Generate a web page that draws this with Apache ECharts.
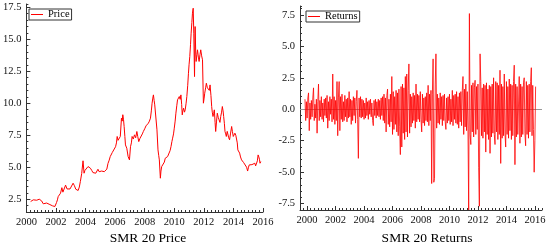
<!DOCTYPE html>
<html><head><meta charset="utf-8">
<script src="https://cdn.jsdelivr.net/npm/echarts@6/dist/echarts.min.js"></script>
<style>html,body{margin:0;padding:0;background:#fff}#c{width:553px;height:244px}</style>
</head><body><div id="c"></div>
<script>
// ---- data ----
const yearTicks = [2000, 2002, 2004, 2006, 2008, 2010, 2012, 2014, 2016];
const priceTicks = [2.5, 5, 7.5, 10, 12.5, 15, 17.5];
const returnTicks = [-7.5, -5, -2.5, 0, 2.5, 5, 7.5];

const priceYears = [
 2000.29, 2000.38, 2000.47, 2000.58, 2000.7, 2000.8, 2000.87, 2000.95, 2001.03, 2001.14,
 2001.25, 2001.37, 2001.48, 2001.59, 2001.68, 2001.77, 2001.85, 2001.93, 2002.04, 2002.1,
 2002.15, 2002.23, 2002.31, 2002.4, 2002.47, 2002.53, 2002.65, 2002.75, 2002.83, 2002.95,
 2003.05, 2003.16, 2003.25, 2003.34, 2003.42, 2003.5, 2003.58, 2003.65, 2003.74, 2003.83,
 2003.9, 2003.96, 2004.01, 2004.09, 2004.17, 2004.25, 2004.33, 2004.42, 2004.5, 2004.6,
 2004.69, 2004.76, 2004.84, 2004.92, 2005.0, 2005.09, 2005.18, 2005.27, 2005.36, 2005.44,
 2005.52, 2005.6, 2005.67, 2005.74, 2005.81, 2005.92, 2006.03, 2006.09, 2006.14, 2006.2,
 2006.26, 2006.35, 2006.43, 2006.48, 2006.52, 2006.57, 2006.61, 2006.66, 2006.7, 2006.79,
 2006.88, 2006.97, 2007.04, 2007.1, 2007.15, 2007.23, 2007.31, 2007.39, 2007.47, 2007.53,
 2007.6, 2007.68, 2007.76, 2007.84, 2007.91, 2008.0, 2008.09, 2008.17, 2008.25, 2008.32,
 2008.39, 2008.45, 2008.5, 2008.55, 2008.59, 2008.64, 2008.68, 2008.73, 2008.77, 2008.83,
 2008.9, 2008.95, 2008.99, 2009.06, 2009.1, 2009.15, 2009.2, 2009.26, 2009.33, 2009.39,
 2009.47, 2009.55, 2009.6, 2009.66, 2009.72, 2009.78, 2009.84, 2009.89, 2009.95, 2010.0,
 2010.06, 2010.11, 2010.17, 2010.22, 2010.28, 2010.34, 2010.4, 2010.45, 2010.5, 2010.54,
 2010.58, 2010.63, 2010.69, 2010.74, 2010.8, 2010.85, 2010.91, 2010.96, 2011.0, 2011.05,
 2011.1, 2011.14, 2011.19, 2011.23, 2011.28, 2011.32, 2011.37, 2011.41, 2011.45, 2011.48,
 2011.53, 2011.57, 2011.63, 2011.68, 2011.74, 2011.79, 2011.85, 2011.91, 2011.97, 2012.02,
 2012.06, 2012.12, 2012.17, 2012.24, 2012.31, 2012.37, 2012.42, 2012.48, 2012.53, 2012.57,
 2012.62, 2012.66, 2012.71, 2012.76, 2012.8, 2012.86, 2012.91, 2012.97, 2013.03, 2013.09,
 2013.14, 2013.2, 2013.25, 2013.3, 2013.34, 2013.39, 2013.43, 2013.48, 2013.52, 2013.58,
 2013.63, 2013.68, 2013.74, 2013.8, 2013.88, 2013.93, 2013.99, 2014.04, 2014.1, 2014.16,
 2014.22, 2014.26, 2014.3, 2014.36, 2014.42, 2014.48, 2014.55, 2014.62, 2014.69, 2014.75,
 2014.82, 2014.89, 2014.96, 2015.02, 2015.07, 2015.13, 2015.2, 2015.25, 2015.31, 2015.38,
 2015.45, 2015.5, 2015.56, 2015.62, 2015.67, 2015.72, 2015.76, 2015.8, 2015.85
];
const priceValues = [
 2.32, 2.38, 2.45, 2.36, 2.42, 2.35, 2.5, 2.44, 2.37, 2.14,
 2.25, 2.2, 2.12, 2.08, 2.1, 1.98, 2.02, 1.93, 2.24, 2.45,
 2.7, 2.6, 2.97, 3.4, 3.05, 3.18, 3.6, 3.3, 3.36, 3.3,
 3.44, 3.75, 3.55, 3.28, 3.4, 3.18, 3.45, 3.88, 4.5, 5.5,
 4.53, 4.75, 4.8, 4.65, 5.05, 4.95, 4.92, 4.75, 4.58, 4.5,
 4.53, 4.6, 4.84, 4.65, 4.58, 4.7, 4.8, 4.65, 4.58, 4.85,
 5.3, 5.55, 5.83, 5.9, 6.15, 6.1, 6.6, 6.9, 7.4, 7.1,
 7.19, 7.4, 8.83, 8.6, 9.1, 8.7, 8.18, 7.4, 6.74, 6.48,
 5.83, 5.57, 6.6, 6.9, 7.4, 7.2, 7.53, 7.3, 7.79, 7.4,
 7.0, 7.25, 7.4, 7.6, 7.79, 8.0, 8.23, 8.35, 8.44, 8.6,
 8.83, 9.4, 10.0, 10.4, 10.65, 10.2, 9.87, 10.0, 9.74, 7.92,
 6.35, 5.9, 5.57, 4.14, 4.7, 5.05, 4.95, 5.18, 5.4, 5.7,
 5.65, 5.83, 5.75, 5.96, 6.3, 6.61, 7.0, 7.27, 7.6, 8.05,
 8.6, 9.22, 9.8, 10.26, 10.4, 10.52, 10.3, 10.65, 9.9, 9.09,
 9.4, 9.61, 9.3, 9.48, 10.0, 10.52, 11.4, 12.34, 13.0, 13.65,
 14.6, 15.47, 16.3, 17.03, 17.42, 15.47, 12.08, 15.99, 14.0, 13.26,
 13.8, 14.17, 13.6, 13.26, 13.8, 14.17, 13.7, 13.39, 10.0, 10.4,
 10.78, 11.2, 11.56, 11.2, 11.3, 11.0, 11.43, 10.6, 9.74, 9.3,
 8.96, 9.2, 9.48, 8.5, 7.79, 8.6, 9.22, 8.9, 8.7, 8.5,
 8.96, 9.3, 9.74, 9.4, 8.96, 8.4, 7.79, 7.6, 7.4, 7.8,
 7.66, 7.3, 7.14, 7.6, 8.18, 7.8, 7.4, 7.5, 7.66, 7.5,
 7.4, 6.9, 6.35, 6.4, 6.1, 5.8, 5.57, 5.45, 5.36, 5.4,
 5.31, 5.0, 4.7, 5.0, 5.18, 5.05, 5.31, 5.2, 5.1, 5.25,
 5.31, 5.1, 5.18, 5.5, 5.96, 5.8, 5.62, 5.31, 5.44
];

// returns sampled every 0.05 year starting at 1999.85 (one row = one year)
const returnsStart = 1999.85;
const returnsStep = 0.05;
const returnValues = [
 0.8, -0.9, 0.6, -0.7, 0.9, 1.3, -1.7, 0.5, -0.8, 0.7, -0.6, 0.9, 1.7, -0.9, 0.4, -0.7, 0.8, -1.9, 0.6, 2.0,
 -0.9, 0.7, -0.6, 1.0, -0.8, 0.5, -1.0, 0.8, -0.5, 0.9, -0.7, 1.1, -1.5, 0.6, -0.9, 1.0, -0.4, 0.8, -1.0, 2.8,
 -0.8, 1.0, -1.2, 0.7, -0.9, 2.2, -2.1, 0.9, 2.2, -1.7, 1.0, -0.8, 1.2, -1.0, 0.6, -0.9, 1.1, -0.6, 0.8, -1.0,
 0.9, -0.7, 1.4, -0.6, 0.8, -1.2, 0.7, -0.9, 1.0, -0.5, 0.9, -1.1, 0.6, 1.5, -0.8, -3.9, 0.9, -0.6, 1.0, -0.7,
 0.8, -0.6, 0.7, -0.8, 0.5, -0.7, 0.9, -0.5, 0.6, -0.8, 0.7, -0.4, 0.8, -0.6, 0.5, -0.9, -1.3, 0.7, -0.5, 0.8,
 -0.7, 0.6, -0.5, 0.8, -0.6, 0.7, -0.8, 0.9, -0.5, 1.0, -0.9, 1.2, -1.1, 0.9, -1.8, 1.1, 1.6, -1.2, 0.8, -1.4,
 1.2, -1.0, 2.6, -2.0, 1.4, -1.6, 1.0, -1.2, 1.5, -1.8, 1.3, -2.1, 1.6, -1.4, -3.6, 1.8, -3.0, 2.0, -1.9, 1.7,
 -2.4, 2.6, -1.8, 2.8, -2.2, 1.5, 3.6, -1.9, 1.2, -1.4, 1.0, -1.1, 1.3, -0.9, 1.1, -1.5, 2.0, -1.0, 1.2, -0.8,
 1.1, -1.0, 1.4, -0.8, -1.8, 1.2, -1.1, 0.9, -1.3, 1.0, -0.9, 1.3, -1.0, 1.9, -1.3, 1.2, -0.9, 1.5, -5.9, 1.2,
 4.0, -5.8, -5.5, 2.0, 4.4, -1.5, 1.2, -1.1, 0.9, -1.2, 1.3, -0.8, 1.0, -1.3, 1.1, -0.9, 1.2, -1.0, -1.6, 0.9,
 -1.1, 1.0, -0.9, 1.2, -1.2, 0.8, -1.0, 1.5, -1.3, 1.1, -0.8, 1.2, -1.1, 1.4, -1.2, 1.0, -1.5, 1.3, -1.0, 1.4,
 -1.3, 1.5, 2.6, -2.0, 1.6, -1.4, 2.0, -1.7, 1.4, -1.5, -8.0, 7.6, -2.0, -2.8, 1.9, -1.8, 2.1, -2.2, 1.7, 2.3,
 -2.0, 1.8, -1.6, 2.0, -4.6, -7.7, 4.4, 2.2, -2.1, 1.7, -2.3, 2.0, -1.8, 1.9, -3.4, 2.1, -2.0, 1.6, -2.4, 1.9,
 -3.5, 1.8, -2.2, 2.0, -1.9, 2.5, -2.0, -2.8, 2.2, -1.8, 2.1, -2.4, 1.9, -2.0, 3.1, -4.3, 2.0, -2.3, 1.8, -2.1,
 2.8, -1.9, -3.0, 2.2, -2.0, 1.8, -2.3, 2.4, -1.7, 2.0, -2.4, 1.9, -2.1, 2.2, 3.5, -4.4, 2.0, -2.2, 1.8, -2.0,
 -1.9, 2.6, -2.7, 2.0, -2.2, 1.8, -2.0, 2.1, 2.5, -1.9, -2.9, 2.2, -2.0, 1.9, -2.3, 2.0, -1.8, 2.2, 3.3, -2.1,
 1.9, -1.6, -5.0, -2.5, 1.8
];

// ---- build ----
const priceData = priceYears.map((y, i) => [y, priceValues[i]]);
const returnData = returnValues.map((v, i) => [+(returnsStart + i * returnsStep).toFixed(2), v]);

const FONT = 'Liberation Serif';
const AX = '#333';
const lbl = { fontFamily: FONT, fontSize: 10.5, color: '#111' };

function mainX(grid, min, max) {
  return { type: 'value', gridIndex: grid, min, max, position: 'bottom',
    axisLine: { show: true, onZero: false, lineStyle: { color: AX, width: 1 } },
    axisTick: { show: true, inside: true, length: 4, lineStyle: { color: AX }, customValues: yearTicks },
    axisLabel: Object.assign({ margin: 5, customValues: yearTicks, formatter: v => String(Math.round(v)) }, lbl),
    splitLine: { show: false } };
}
function minorX(grid, min, max, step) {
  return { type: 'value', gridIndex: grid, min, max, interval: step, position: 'bottom', offset: 0,
    axisLine: { show: false, onZero: false }, axisLabel: { show: false }, splitLine: { show: false },
    axisTick: { show: true, inside: true, length: 2, lineStyle: { color: AX } } };
}
function mainY(grid, min, max, ticks) {
  return { type: 'value', gridIndex: grid, min, max, position: 'left',
    axisLine: { show: true, onZero: false, lineStyle: { color: AX, width: 1 } },
    axisTick: { show: true, inside: true, length: 4, lineStyle: { color: AX }, customValues: ticks },
    axisLabel: Object.assign({ margin: 5, customValues: ticks, formatter: v => v.toFixed(1) }, lbl),
    splitLine: { show: false } };
}
function minorY(grid, min, max, step) {
  return { type: 'value', gridIndex: grid, min, max, interval: step, position: 'left', offset: 0,
    axisLine: { show: false, onZero: false }, axisLabel: { show: false }, splitLine: { show: false },
    axisTick: { show: true, inside: true, length: 2, lineStyle: { color: AX } } };
}

const legendBase = {
  orient: 'horizontal', borderColor: '#333', borderWidth: 1, backgroundColor: '#fff',
  padding: [0, 2, 0, 2], itemWidth: 12, itemHeight: 10, itemGap: 4,
  icon: 'path://M0,0 H24 V2 H0 Z',
  textStyle: { fontFamily: FONT, fontSize: 10.5, color: '#000' }
};

const chart = echarts.init(document.getElementById('c'), null, { renderer: 'canvas' });
chart.setOption({
  animation: false,
  backgroundColor: '#fff',
  grid: [
    { left: 22, right: 290, top: 4, bottom: 32 },
    { left: 300, right: 11, top: 6, bottom: 34 }
  ],
  title: [
    { text: 'SMR 20 Price', left: 143, top: 226, textAlign: 'center',
      textStyle: { fontFamily: FONT, fontSize: 13.5, fontWeight: 'normal', color: '#000' } },
    { text: 'SMR 20 Returns', left: 422, top: 226, textAlign: 'center',
      textStyle: { fontFamily: FONT, fontSize: 13.5, fontWeight: 'normal', color: '#000' } }
  ],
  legend: [
    Object.assign({ data: ['Price'], left: 29, top: 9 }, legendBase),
    Object.assign({ data: ['Returns'], left: 306, top: 11 }, legendBase)
  ],
  xAxis: [
    mainX(0, 2000, 2016), minorX(0, 2000, 2016, 0.25),
    mainX(1, 1999.5, 2016.5), minorX(1, 1999.5, 2016.5, 0.25)
  ],
  yAxis: [
    mainY(0, 1.5, 17.75, priceTicks), minorY(0, 1.5, 17.75, 0.5),
    mainY(1, -8, 8.2, returnTicks), minorY(1, -8, 8.2, 0.5)
  ],
  series: [
    { name: 'Price', type: 'line', xAxisIndex: 0, yAxisIndex: 0, data: priceData,
      symbol: 'none', lineStyle: { color: '#ff0000', width: 1 }, itemStyle: { color: '#ff0000' } },
    { name: 'Returns', type: 'line', xAxisIndex: 2, yAxisIndex: 2, data: returnData,
      symbol: 'none', lineStyle: { color: '#ff0000', width: 0.8 }, itemStyle: { color: '#ff0000' }, z: 3,
      markLine: { silent: true, symbol: 'none', label: { show: false },
        lineStyle: { color: '#999', type: 'solid', width: 1 }, data: [{ yAxis: 0 }], z: 1 } }
  ]
});
</script>
</body></html>
